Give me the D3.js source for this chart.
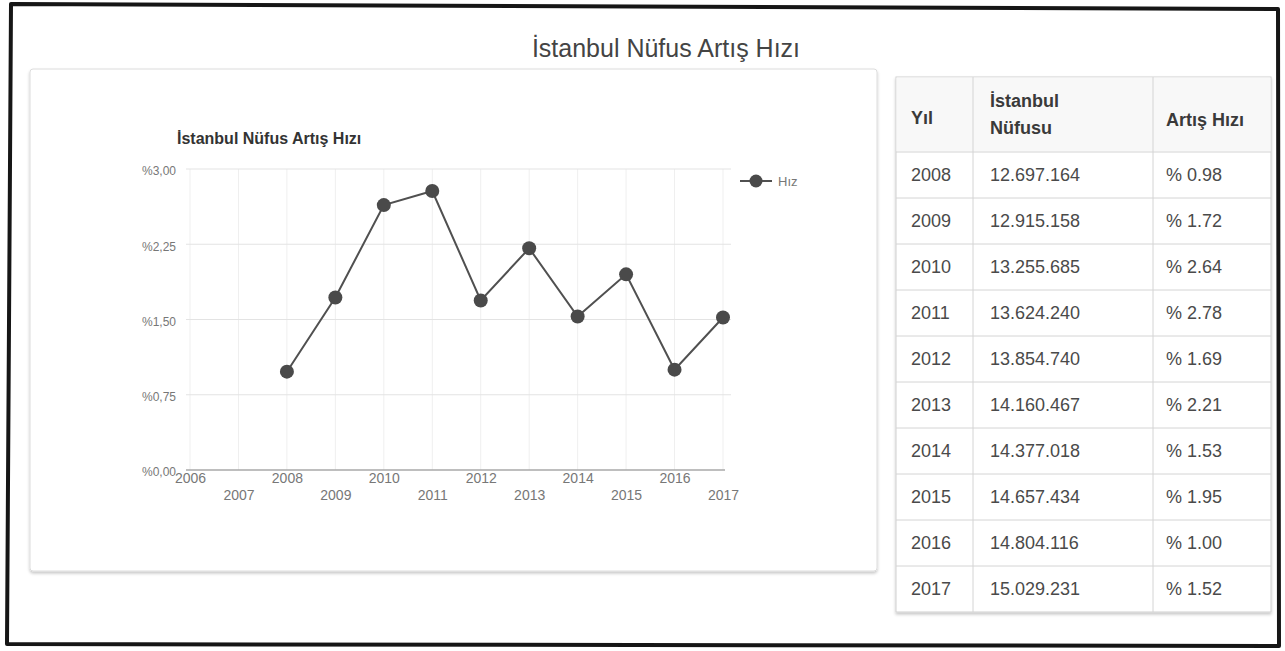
<!DOCTYPE html>
<html>
<head>
<meta charset="utf-8">
<script src="https://cdn.jsdelivr.net/npm/d3@7"></script>
<style>
  html, body { margin: 0; padding: 0; background: #fff; }
  svg { display: block; font-family: "Liberation Sans", Arial, Helvetica, sans-serif; }
</style>
</head>
<body>
<svg id="page" width="1285" height="651"></svg>
<script>
// ---- data ----
const pageTitle = "İstanbul Nüfus Artış Hızı";
const chartTitle = "İstanbul Nüfus Artış Hızı";
const seriesName = "Hız";
const years = [2008, 2009, 2010, 2011, 2012, 2013, 2014, 2015, 2016, 2017];
const population = ["12.697.164", "12.915.158", "13.255.685", "13.624.240", "13.854.740",
                    "14.160.467", "14.377.018", "14.657.434", "14.804.116", "15.029.231"];
const rates = [0.98, 1.72, 2.64, 2.78, 1.69, 2.21, 1.53, 1.95, 1.00, 1.52];
const xTickYears = [2006, 2007, 2008, 2009, 2010, 2011, 2012, 2013, 2014, 2015, 2016, 2017];
const yTickValues = [0, 0.75, 1.5, 2.25, 3];
const tableHeaders = [["Yıl"], ["İstanbul", "Nüfusu"], ["Artış Hızı"]];

const svg = d3.select("#page");
const trLocale = d3.formatLocale({ decimal: ",", thousands: ".", grouping: [3], currency: ["", "₺"] });
const yFmt = v => "%" + trLocale.format(".2f")(v);
const rateFmt = v => "% " + d3.format(".2f")(v);

// ---- outer frame ----
svg.append("path")
  .attr("d", "M11,4 L1278,9 L1279,646 L7,644 Z")
  .attr("fill", "none").attr("stroke", "#161616").attr("stroke-width", 4)
  .attr("stroke-linejoin", "round");

// ---- page title ----
svg.append("text")
  .attr("x", 666).attr("y", 57)
  .attr("text-anchor", "middle")
  .attr("font-size", 25).attr("fill", "#444")
  .text(pageTitle);

// ---- chart card ----
const defs = svg.append("defs");
const sh = defs.append("filter").attr("id", "shadow").attr("x", "-5%").attr("y", "-5%").attr("width", "110%").attr("height", "115%");
sh.append("feDropShadow").attr("dx", 0).attr("dy", 2).attr("stdDeviation", 1.5).attr("flood-color", "#000").attr("flood-opacity", 0.22);

svg.append("rect")
  .attr("x", 30).attr("y", 69).attr("width", 847).attr("height", 502).attr("rx", 3)
  .attr("fill", "#fff").attr("stroke", "#dcdcdc").attr("filter", "url(#shadow)");

svg.append("text")
  .attr("x", 177).attr("y", 144)
  .attr("font-size", 16).attr("font-weight", "bold").attr("fill", "#333")
  .text(chartTitle);

// ---- scales ----
const x = d3.scaleLinear().domain([2006, 2017]).range([190, 723]);
const y = d3.scaleLinear().domain([0, 3]).range([470, 169]);

// vertical grid
svg.append("g").selectAll("line").data(xTickYears).join("line")
  .attr("x1", d => x(d)).attr("x2", d => x(d))
  .attr("y1", y(3)).attr("y2", y(0))
  .attr("stroke", "#efefef").attr("stroke-width", 1);

// horizontal grid
svg.append("g").selectAll("line").data(yTickValues.filter(v => v > 0)).join("line")
  .attr("x1", 186).attr("x2", 731)
  .attr("y1", d => y(d)).attr("y2", d => y(d))
  .attr("stroke", "#e3e3e3").attr("stroke-width", 1);

// zero baseline
svg.append("line")
  .attr("x1", 186).attr("x2", 725).attr("y1", y(0)).attr("y2", y(0))
  .attr("stroke", "#a9a9a9").attr("stroke-width", 1.5);

// y axis labels
const yAxis = svg.append("g").attr("transform", "translate(188,2)")
  .call(d3.axisLeft(y).tickValues(yTickValues).tickFormat(yFmt).tickSize(0).tickPadding(12));
yAxis.select(".domain").remove();
yAxis.selectAll("text").attr("font-size", 12).attr("fill", "#777").attr("font-family", null);

// x axis labels (staggered on two rows)
const xAxis = svg.append("g").attr("transform", `translate(0,${y(0)})`)
  .call(d3.axisBottom(x).tickValues(xTickYears).tickFormat(d3.format("d")).tickSize(0).tickPadding(4));
xAxis.select(".domain").remove();
xAxis.selectAll("text")
  .attr("font-size", 14).attr("fill", "#777").attr("font-family", null)
  .attr("dy", (d, i) => (i % 2 === 0 ? "0.65em" : "1.85em"));

// ---- series ----
const points = years.map((yr, i) => ({ year: yr, rate: rates[i] }));
svg.append("path")
  .datum(points)
  .attr("fill", "none").attr("stroke", "#505050").attr("stroke-width", 2)
  .attr("d", d3.line().x(d => x(d.year)).y(d => y(d.rate)));
svg.append("g").selectAll("circle").data(points).join("circle")
  .attr("cx", d => x(d.year)).attr("cy", d => y(d.rate)).attr("r", 7)
  .attr("fill", "#4a4a4a");

// legend
const lg = svg.append("g").attr("transform", "translate(740,181)");
lg.append("line").attr("x1", 0).attr("x2", 32).attr("y1", 0).attr("y2", 0)
  .attr("stroke", "#505050").attr("stroke-width", 2);
lg.append("circle").attr("cx", 16).attr("cy", 0).attr("r", 6.5).attr("fill", "#4a4a4a");
lg.append("text").attr("x", 38).attr("y", 0).attr("dy", "0.35em")
  .attr("font-size", 13).attr("fill", "#777").text(seriesName);

// ---- table ----
const colX = [896, 973, 1153, 1271];
const headTop = 77, headBottom = 152, rowH = 46;
const tableBottom = headBottom + rowH * years.length;

svg.append("rect")
  .attr("x", colX[0]).attr("y", headTop)
  .attr("width", colX[3] - colX[0]).attr("height", tableBottom - headTop)
  .attr("fill", "#fff").attr("stroke", "#cfcfcf").attr("filter", "url(#shadow)");
svg.append("rect")
  .attr("x", colX[0] + 0.5).attr("y", headTop + 0.5)
  .attr("width", colX[3] - colX[0] - 1).attr("height", headBottom - headTop - 1)
  .attr("fill", "#f8f8f8");

// row separators
svg.append("g").selectAll("line").data(d3.range(years.length)).join("line")
  .attr("x1", colX[0]).attr("x2", colX[3])
  .attr("y1", (d, i) => headBottom + i * rowH).attr("y2", (d, i) => headBottom + i * rowH)
  .attr("stroke", "#d4d4d4");
// column separators
svg.append("g").selectAll("line").data([colX[1], colX[2]]).join("line")
  .attr("x1", d => d).attr("x2", d => d).attr("y1", headTop).attr("y2", tableBottom)
  .attr("stroke", "#d4d4d4");

// header text
const headPos = [
  { x: 911, ys: [124] },
  { x: 990, ys: [107, 134] },
  { x: 1166, ys: [126] }
];
tableHeaders.forEach((lines, c) => {
  lines.forEach((ln, k) => {
    svg.append("text")
      .attr("x", headPos[c].x).attr("y", headPos[c].ys[k])
      .attr("font-size", 18).attr("font-weight", "bold").attr("fill", "#3a3a3a")
      .text(ln);
  });
});

// body rows
const rowG = svg.append("g").selectAll("g").data(years).join("g")
  .attr("transform", (d, i) => `translate(0,${headBottom + i * rowH + rowH / 2})`);
rowG.append("text").attr("x", 911).attr("dy", "0.36em")
  .attr("font-size", 18).attr("fill", "#4a4a4a").text(d => d);
rowG.append("text").attr("x", 990).attr("dy", "0.36em")
  .attr("font-size", 18).attr("fill", "#4a4a4a").text((d, i) => population[i]);
rowG.append("text").attr("x", 1166).attr("dy", "0.36em")
  .attr("font-size", 18).attr("fill", "#4a4a4a").text((d, i) => rateFmt(rates[i]));
</script>
</body>
</html>
